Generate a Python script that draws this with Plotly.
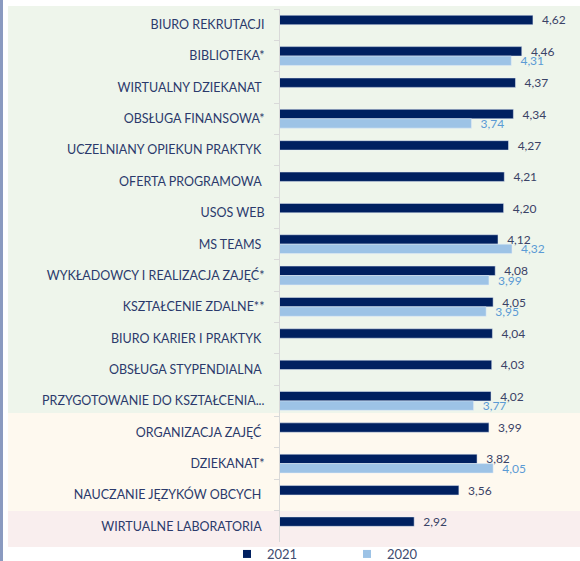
import plotly.graph_objects as go

categories = [
    "BIURO REKRUTACJI",
    "BIBLIOTEKA*",
    "WIRTUALNY DZIEKANAT\u00a0",
    "OBSŁUGA FINANSOWA*",
    "UCZELNIANY OPIEKUN PRAKTYK\u00a0",
    "OFERTA PROGRAMOWA\u00a0",
    "USOS WEB",
    "MS TEAMS\u00a0",
    "WYKŁADOWCY I REALIZACJA ZAJĘĆ*",
    "KSZTAŁCENIE ZDALNE**",
    "BIURO KARIER I PRAKTYK\u00a0",
    "OBSŁUGA STYPENDIALNA\u00a0",
    "PRZYGOTOWANIE DO KSZTAŁCENIA...",
    "ORGANIZACJA ZAJĘĆ\u00a0",
    "DZIEKANAT*",
    "NAUCZANIE JĘZYKÓW OBCYCH\u00a0",
    "WIRTUALNE LABORATORIA\u00a0",
]
values_2021 = [4.62, 4.46, 4.37, 4.34, 4.27, 4.21, 4.20, 4.12, 4.08, 4.05,
               4.04, 4.03, 4.02, 3.99, 3.82, 3.56, 2.92]
values_2020 = [None, 4.31, None, 3.74, None, None, None, 4.32, 3.99, 3.95,
               None, None, 3.77, None, 4.05, None, None]
series_names = ["2021", "2020"]

C2021 = "#002060"
C2020 = "#9DC3E6"
TXT = "#2B3A6B"
FONT = "Lato, Open Sans, sans-serif"
W, H = 580, 561


def fmt(v):
    return "" if v is None else "\u00a0\u00a0" + f"{v:.2f}".replace(".", ",")


fig = go.Figure()
fig.add_trace(go.Bar(
    y=categories, x=values_2021, orientation="h", name=series_names[0],
    marker=dict(color=C2021), text=[fmt(v) for v in values_2021],
    textposition="outside", constraintext="none", cliponaxis=False,
    textfont=dict(family=FONT, size=12, color="#3A4266"),
    showlegend=False, hoverinfo="skip",
))
fig.add_trace(go.Bar(
    y=categories, x=values_2020, orientation="h", name=series_names[1],
    marker=dict(color=C2020), text=[fmt(v) for v in values_2020],
    textposition="outside", constraintext="none", cliponaxis=False,
    textfont=dict(family=FONT, size=12, color="#5B9BD5"),
    showlegend=False, hoverinfo="skip",
))
# legend proxies
for nm, col in zip(series_names, [C2021, C2020]):
    fig.add_trace(go.Scatter(
        x=[None], y=[None], mode="markers", name=nm,
        marker=dict(symbol="square", size=8, color=col),
    ))


def py(p):
    return 1 - p / H


shapes = [
    dict(type="rect", xref="paper", yref="paper", x0=8 / W, x1=1, y0=py(413), y1=py(6),
         fillcolor="#EEF5EB", line_width=0, layer="below"),
    dict(type="rect", xref="paper", yref="paper", x0=8 / W, x1=1, y0=py(511), y1=py(413),
         fillcolor="#FEF9EF", line_width=0, layer="below"),
    dict(type="rect", xref="paper", yref="paper", x0=8 / W, x1=1, y0=py(547), y1=py(511),
         fillcolor="#F9EEEE", line_width=0, layer="below"),
    dict(type="rect", xref="paper", yref="paper", x0=0, x1=3 / W, y0=0, y1=1,
         fillcolor="#8A9AC0", line_width=0, layer="below"),
]

fig.update_layout(
    width=W, height=H,
    margin=dict(l=0, r=0, t=0, b=0, autoexpand=False),
    paper_bgcolor="white", plot_bgcolor="rgba(0,0,0,0)",
    barmode="group", bargap=0.4, bargroupgap=0,
    hovermode=False,
    shapes=shapes,
    font=dict(family=FONT, color=TXT),
    xaxis=dict(domain=[280 / W, 559.5 / W], range=[1, 5], visible=False),
    yaxis=dict(
        domain=[py(542), py(9)], autorange="reversed", type="category",
        categoryorder="array", categoryarray=categories,
        showline=True, linecolor="#D9D9D9", linewidth=1,
        ticks="outside", tickson="boundaries", ticklen=5, tickcolor="#D9D9D9",
        showgrid=False, zeroline=False, automargin=False,
        tickfont=dict(family=FONT, size=12.5, color=TXT),
        ticklabelstandoff=12,
    ),
    legend=dict(
        orientation="h", x=227 / W, xanchor="left", y=py(554), yanchor="middle",
        font=dict(family=FONT, size=13, color="#404B6E"),
        bgcolor="rgba(0,0,0,0)", entrywidth=75, itemwidth=30,
    ),
)

fig.write_html(
    "out.html",
    config={"displayModeBar": False, "staticPlot": True},
    post_script="document.body.style.margin='0';document.body.style.overflow='hidden';",
)
